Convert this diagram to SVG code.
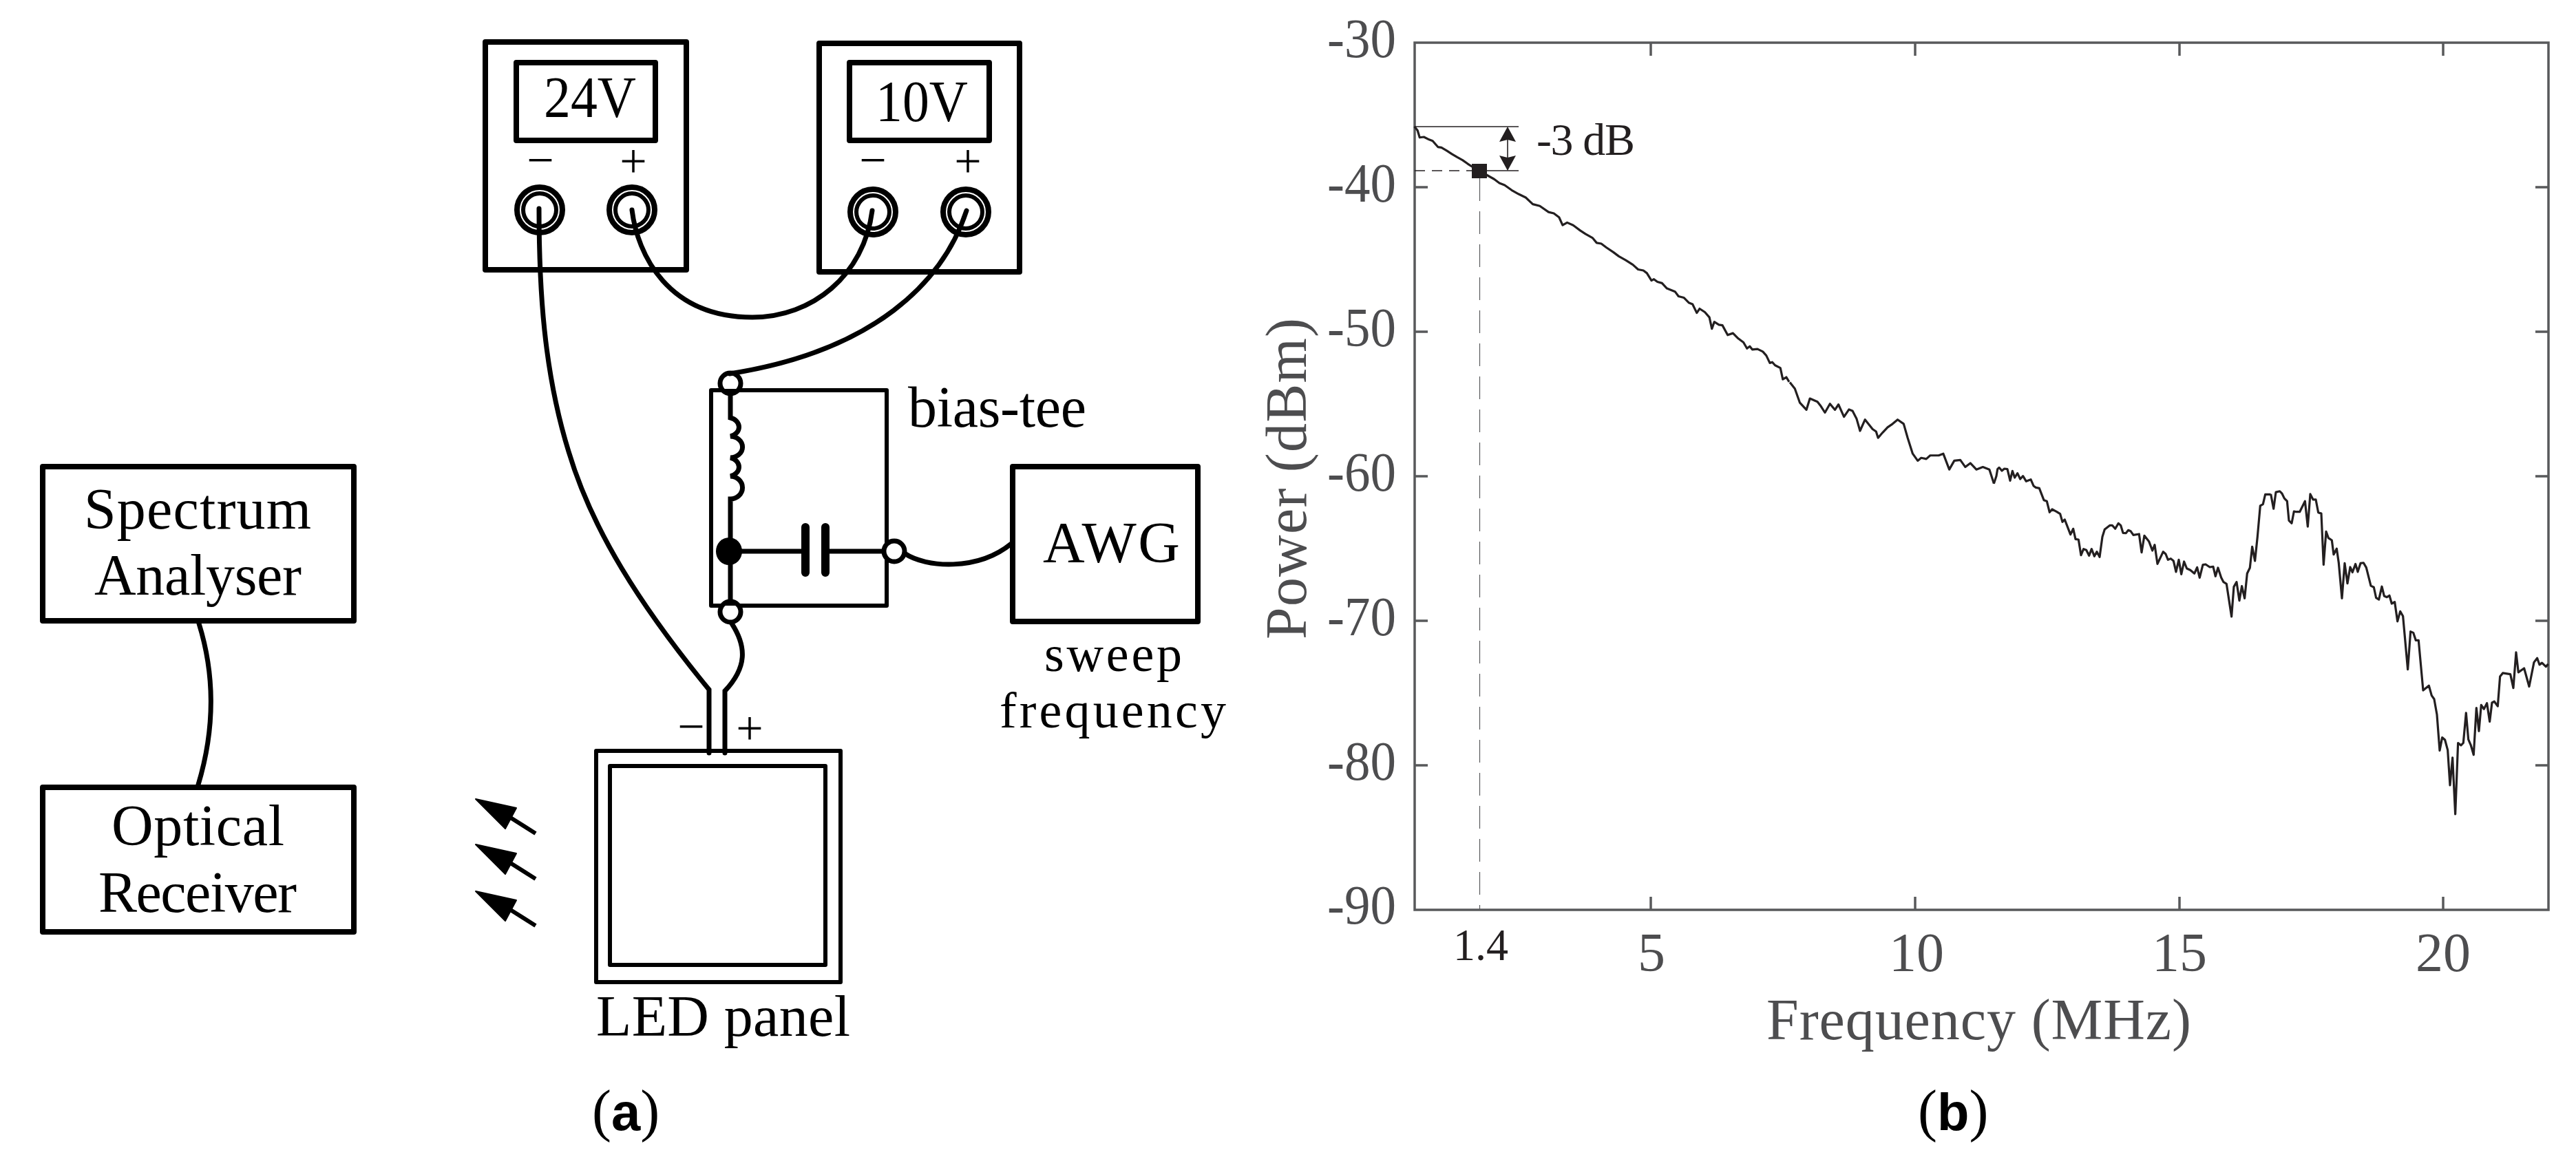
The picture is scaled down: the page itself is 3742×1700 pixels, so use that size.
<svg xmlns="http://www.w3.org/2000/svg" width="3742" height="1700" viewBox="0 0 3742 1700">
<style>
text{font-family:"Liberation Serif","Times New Roman",serif;fill:#000}
.box{fill:none;stroke:#000;stroke-width:8;stroke-linejoin:round}
.thin{fill:none;stroke:#000;stroke-width:6;stroke-linejoin:round}
.outer{fill:#fff;stroke:#000;stroke-width:8}
.inner{fill:none;stroke:#000;stroke-width:6}
.port{fill:#fff;stroke:#000;stroke-width:7}
.wire{fill:none;stroke:#000;stroke-width:7;stroke-linecap:round}
.lab{font-size:84px}
.sub{font-size:74px}
.sign{font-size:70px;text-anchor:middle}
.axis{fill:none;stroke:#58595b;stroke-width:3.5}
.tick{fill:#4d4d4f;font-size:80px}
.tickx{fill:#4d4d4f;font-size:80px;text-anchor:middle}
.title{fill:#4d4d4f;font-size:84px}
.guide{fill:none;stroke:#231f20;stroke-width:1.6}
.guideg{fill:none;stroke:#58595b;stroke-width:1.2}
.curve{fill:none;stroke:#231f20;stroke-width:3.2;stroke-linejoin:round;vector-effect:non-scaling-stroke}
.note{fill:#231f20;font-size:66px}
.cap{font-size:84px}
.capb{font-family:"Liberation Sans",Arial,sans-serif;font-weight:bold;font-size:76px}
</style>
<defs>
<g id="ray"><path d="M691 1161L750 1174L734 1204Z" fill="#000" stroke="#000" stroke-width="2" stroke-linejoin="round"/><path d="M740 1187L778 1211" stroke="#000" stroke-width="6" fill="none"/></g>
</defs>

<g id="supply-24v">
<rect class="box" x="705" y="61" width="292" height="331"/>
<rect class="box" x="750" y="91" width="202" height="113"/>
<text class="lab" x="790" y="170" textLength="134" lengthAdjust="spacingAndGlyphs">24V</text>
<text class="sign" x="785" y="256">−</text>
<text class="sign" x="920" y="258">+</text>
<circle class="outer" cx="784" cy="305" r="33"/><circle class="inner" cx="784" cy="305" r="24"/>
<circle class="outer" cx="918" cy="305" r="33"/><circle class="inner" cx="918" cy="305" r="24"/>
</g>
<g id="supply-10v">
<rect class="box" x="1190" y="63" width="291" height="332"/>
<rect class="box" x="1234" y="91" width="203" height="113"/>
<text class="lab" x="1272" y="176" textLength="134" lengthAdjust="spacingAndGlyphs">10V</text>
<text class="sign" x="1268" y="256">−</text>
<text class="sign" x="1406" y="258">+</text>
<circle class="outer" cx="1268" cy="308" r="33"/><circle class="inner" cx="1268" cy="308" r="24"/>
<circle class="outer" cx="1403" cy="308" r="33"/><circle class="inner" cx="1403" cy="308" r="24"/>
</g>
<g id="bias-tee">
<rect class="thin" x="1033" y="567" width="255" height="313"/>
<path class="wire" d="M1061 570V607A17 14 0 0 1 1061 634A17 15 0 0 1 1061 665A17 14 0 0 1 1061 692A17 16 0 0 1 1061 725V873"/>
<ellipse cx="1059" cy="801" rx="19" ry="20" fill="#000"/>
<path class="wire" d="M1059 801H1165M1200 801H1284"/>
<path d="M1170 766V832M1199 766V832" stroke="#000" stroke-width="12" stroke-linecap="round" fill="none"/>
<circle class="port" cx="1061" cy="557" r="15"/>
<circle class="port" cx="1061" cy="889" r="15"/>
<circle class="port" cx="1299" cy="801" r="15"/>
<path d="M1048 565H1074L1061 578ZM1049 880H1073L1061 872Z" fill="#000"/>
<text class="lab" x="1319" y="620" textLength="259" lengthAdjust="spacing">bias-tee</text>
</g>
<g id="awg">
<rect class="box" x="1471" y="678" width="269" height="225"/>
<text class="lab" x="1515" y="817" textLength="199" lengthAdjust="spacing">AWG</text>
<text class="sub" x="1517" y="975" textLength="200" lengthAdjust="spacing">sweep</text>
<text class="sub" x="1452" y="1057" textLength="329" lengthAdjust="spacing">frequency</text>
</g>
<g id="spectrum-analyser">
<rect class="box" x="62" y="678" width="452" height="224"/>
<text class="lab" x="122" y="768" textLength="330" lengthAdjust="spacing">Spectrum</text>
<text class="lab" x="137" y="864" textLength="301" lengthAdjust="spacing">Analyser</text>
</g>
<g id="optical-receiver">
<rect class="box" x="62" y="1144" width="452" height="210"/>
<text class="lab" x="162" y="1228" textLength="251" lengthAdjust="spacing">Optical</text>
<text class="lab" x="143" y="1325" textLength="288" lengthAdjust="spacing">Receiver</text>
</g>
<g id="led-panel">
<rect class="thin" x="866" y="1091" width="355" height="336" stroke-width="7"/>
<rect class="thin" x="886" y="1113" width="313" height="289"/>
<text class="sign" x="1004" y="1079">−</text>
<text class="sign" x="1089" y="1082">+</text>
<text class="lab" x="866" y="1505" textLength="369" lengthAdjust="spacing">LED panel</text>
</g>
<g id="light-rays">
<use href="#ray"/><use href="#ray" y="66"/><use href="#ray" y="134"/>
</g>
<g id="connectors">
<path class="wire" d="M783 303C783 420 790 540 826 656C860 770 930 880 1030 1002V1094"/>
<path class="wire" d="M918 305C926 370 970 461 1093 461C1180 461 1255 400 1267 306"/>
<path class="wire" d="M1404 306C1370 410 1270 510 1060 543"/>
<path class="wire" d="M1063 906C1085 940 1085 970 1053 1004V1094"/>
<path class="wire" d="M1314 804C1345 825 1420 830 1469 790"/>
<path class="wire" d="M289 906C312 980 312 1060 288 1140"/>
</g>
<text class="cap" x="860" y="1642">(<tspan class="capb">a</tspan>)</text>

<g id="chart">
<rect class="axis" x="2055" y="62" width="1647" height="1260"/>
<path class="axis" d="M2055 272h19M2055 482h19M2055 692h19M2055 902h19M2055 1112h19M3702 272h-19M3702 482h-19M3702 692h-19M3702 902h-19M3702 1112h-19M2398 62v19M2782 62v19M3166 62v19M3549 62v19M2398 1322v-19M2782 1322v-19M3166 1322v-19M3549 1322v-19"/>
<text class="tick" x="1928" y="83" textLength="100" lengthAdjust="spacingAndGlyphs">-30</text>
<text class="tick" x="1928" y="293" textLength="100" lengthAdjust="spacingAndGlyphs">-40</text>
<text class="tick" x="1928" y="503" textLength="100" lengthAdjust="spacingAndGlyphs">-50</text>
<text class="tick" x="1928" y="713" textLength="100" lengthAdjust="spacingAndGlyphs">-60</text>
<text class="tick" x="1928" y="923" textLength="100" lengthAdjust="spacingAndGlyphs">-70</text>
<text class="tick" x="1928" y="1133" textLength="100" lengthAdjust="spacingAndGlyphs">-80</text>
<text class="tick" x="1928" y="1342" textLength="100" lengthAdjust="spacingAndGlyphs">-90</text>
<text class="tickx" x="2399" y="1411">5</text>
<text class="tickx" x="2784" y="1411">10</text>
<text class="tickx" x="3166" y="1411">15</text>
<text class="tickx" x="3549" y="1411">20</text>
<text class="note" x="2111" y="1395" textLength="80" lengthAdjust="spacingAndGlyphs">1.4</text>
<text class="title" x="2566" y="1510" textLength="617" lengthAdjust="spacing">Frequency (MHz)</text>
<text class="title" transform="translate(1897 929) rotate(-90)" textLength="467" lengthAdjust="spacing">Power (dBm)</text>
<path class="guideg" stroke-dasharray="33 15" d="M2149.5 259V1322"/>
<path class="guide" d="M2055 184H2206M2160 248H2206"/>
<path class="guide" stroke-dasharray="15 10" d="M2055 248H2138"/>
<path class="guide" d="M2190 190V242"/>
<path d="M2190 184L2202 206L2190 203L2178 206ZM2190 248L2202 226L2190 229L2178 226Z" fill="#231f20"/>
<text class="note" x="2232" y="225" textLength="143" lengthAdjust="spacing">-3 dB</text>
<polyline class="curve" transform="translate(1900 0) scale(.5102 .3827)" points="303,480 312,495 318,522 330,520 345,530 355,535 370,558 380,560 395,572 410,585 425,597 440,608 455,622 470,635 490,650 510,665 530,680 545,695 560,703 580,722 600,737 620,750 640,775 660,782 685,805 700,810 715,825 725,855 738,845 755,855 775,875 790,888 810,903 822,922 835,925 850,940 870,958 885,973 905,988 925,1005 940,1023 955,1027 965,1037 978,1065 985,1060 995,1070 1008,1075 1022,1095 1045,1107 1055,1125 1070,1130 1085,1150 1095,1155 1107,1188 1115,1172 1130,1185 1143,1205 1150,1248 1157,1222 1170,1233 1180,1235 1195,1272 1210,1265 1225,1285 1240,1300 1250,1323 1258,1315 1265,1327 1280,1325 1295,1335 1305,1350 1315,1378 1322,1375 1330,1387 1345,1397 1352,1440 1362,1432 1370,1450"/>
<polyline class="curve" transform="translate(2600 450) scale(.7283 .5102)" points="0,207 10,225 20,265 33,285 40,253 55,262 62,275 70,293 80,268 90,285 97,270 108,305 118,284 125,288 133,310 140,345 150,313 165,340 172,347 176,365 185,350 195,335 205,325 215,313 227,325 235,365 245,410 255,430 262,422 272,425 280,415 297,415 306,410 318,455 328,430 340,428 350,448 360,437 372,455 385,448 398,455 407,495"/>
<polyline class="curve" transform="translate(2900 580) scale(.3333 .3333)" points="-11,368 0,335 5,305 12,298 24,312 35,303 48,305 60,355 70,313 80,342 92,323 104,348 116,335 130,358 150,350 162,378 172,385 187,388 207,440 220,445 232,493 243,480 262,490 278,500 288,535 298,525 323,590 335,565 345,610 358,612 369,680 380,653 392,658 404,682 415,653 427,685 438,665 450,688 462,600 472,568 495,550 505,550 518,565 532,541 542,550 552,583 565,584 575,571 585,575 597,592 622,588 633,668 645,595 665,620 680,660 690,635 702,718 727,665 738,675 748,700 760,695 772,705 783,753 795,700 806,763 818,708 830,738 845,745 863,760 875,733 886,778 900,722 912,720 930,732 945,730 955,772 966,735 980,778 990,797 1003,805 1025,948 1035,818 1047,797 1059,878 1070,815 1082,868 1093,760 1105,735 1115,643 1127,705 1138,600 1150,465 1162,458 1172,415 1196,415"/>
<polyline class="curve" transform="translate(3300 680) scale(.3333 .3444)" points="-4,110 8,172 18,102 35,98 45,108 55,128 67,140 75,222 87,233 97,183 108,185 122,185 145,140 157,247 168,110 180,133 192,133 203,188 216,192 226,408 237,268 247,295 262,305 270,365 283,340 292,400 306,550 318,402 330,487 342,418 352,440 365,405 375,438 387,402 400,400 412,420 432,497 445,503 455,548 467,555 480,500 490,540 502,545 513,538 523,572 536,565 548,647 560,605 572,625 593,850 605,690 617,695 628,727 640,727 660,938 685,918 697,960 708,975 720,1040 732,1192 743,1137 755,1147 767,1190 777,1338 788,1222 800,1460 812,1160 825,1170 835,1160 847,1033 857,1145 868,1170 880,1210 892,1012 903,1110 913,1000 925,1017 938,992 950,1070 960,990 970,985 985,1005 995,880 1007,865 1040,870 1053,928 1065,778 1075,862 1100,845 1122,922 1143,820 1157,802 1167,830 1178,822 1195,838 1205,827"/>
<rect x="2138" y="238" width="22" height="21" fill="#231f20"/>
</g>
<text class="cap" x="2786" y="1642">(<tspan class="capb">b</tspan>)</text>
</svg>
